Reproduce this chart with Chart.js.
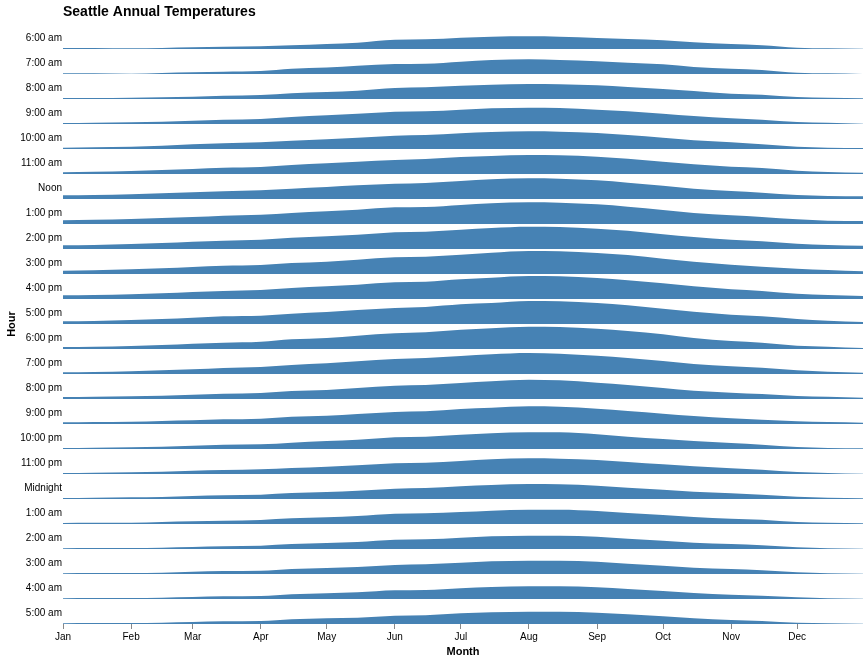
<!DOCTYPE html>
<html>
<head>
<meta charset="utf-8">
<script src="https://cdn.jsdelivr.net/npm/chart.js@4"></script>
<style>
  html, body { margin: 0; padding: 0; background: #fff; }
  #wrap { width: 868px; height: 661px; position: relative; }
</style>
</head>
<body>
<div id="wrap"><canvas id="c" width="868" height="661"></canvas></div>
<script>
// ---- data ----
const hours = ['6:00 am','7:00 am','8:00 am','9:00 am','10:00 am','11:00 am','Noon',
  '1:00 pm','2:00 pm','3:00 pm','4:00 pm','5:00 pm','6:00 pm','7:00 pm','8:00 pm',
  '9:00 pm','10:00 pm','11:00 pm','Midnight','1:00 am','2:00 am','3:00 am','4:00 am','5:00 am'];
const months = ['Jan','Feb','Mar','Apr','May','Jun','Jul','Aug','Sep','Oct','Nov','Dec'];
const monthStartDays = [0,31,59,90,120,151,181,212,243,273,304,334];
// day of year of each sample (1st and 15th of each month, Dec 31)
const sampleDays = [0,14,31,45,59,73,90,104,120,134,151,165,181,195,212,226,243,257,273,287,304,318,334,348,364];

// hourly normal temperatures (°F) at the sample days
const temp6am  = [36,36,35.4,36,37.4,38.6,39.4,41.4,44,46.6,52.6,53.4,56.6,58.6,59.4,58.6,56,54,51.4,47.4,44,41.4,36.6,35.4,34.6];
const temp7am  = [35.4,35.4,34.6,36,37.4,38.6,40,44.6,47,50.6,54,54.6,58.6,62,63.4,62,59.4,56.6,53.4,48,44.6,42,36.6,35.4,34];
const temp8am  = [36,36,36.6,37.4,38.6,40.6,42,45.4,48,50.6,56,57.4,60.6,62.6,64,63.4,61.4,58,54,50,44.6,42.6,38,36.6,35.4];
const temp9am  = [36,36.6,37.4,38.6,40.6,42.6,44,48,51.4,54.6,58.6,59.4,62.6,65.4,66.6,66,62.6,59.4,54.6,50,45.4,42.6,38,36.6,34.6];
const temp10am = [36.6,37.4,38.6,40.6,43.4,45.4,47.4,50.6,53.4,56.6,60.6,62,65.4,68,69.4,68.6,66,62,56.6,51.4,47.4,43.4,38.6,36.6,36];
const temp11am = [37.4,38.6,40,42,44,46.6,48,52,55.4,58.6,62,64,68,70,72,71.4,68.6,64.6,58.6,53.4,48.6,46,40.6,38,36.6];
const tempNoon = [41.4,42,43.4,45.4,47.4,49.4,51.4,54.6,58,61.4,64.6,66,70,73.4,75.4,74.6,71.4,66.6,60.6,54.6,50,46.6,42,40,39.4];
const temp1pm  = [41.4,42.6,44,46,48,50.6,52.6,56,59.4,62.6,67.4,68,72,75.4,77.4,76.6,73.4,68.6,62,56,51.4,48,43.4,40.6,40];
const temp2pm  = [41.4,42,44,46,48.6,50.6,52.6,56.6,59.4,62.6,67.4,68.6,72.6,76,78.6,78,74.6,70.6,63.4,58,52.6,49.4,44.6,42,40.6];
const temp3pm  = [40.6,41.4,43.4,45.4,48,50.6,52,56,58.6,62.6,67.4,68.6,72.6,76.6,80,79.4,76,72,64.6,58.6,52.6,48.6,44.6,42,39.4];
const temp4pm  = [41.4,42,43.4,45.4,48,50,52,56,59.4,62.6,67.4,68.6,73.4,76.6,80,79.4,76,71.4,65.4,59.4,53.4,50,44.6,42,40];
const temp5pm  = [39.4,40,42,44,46.6,49.4,50.6,54.6,58,62,66,68,73.4,76,80,79.4,76,71.4,64.6,58.6,52.6,49.4,44,40.6,38];
const temp6pm  = [38,38.6,40,42,44.6,46.6,48.6,53.4,56,60.6,65.4,67.4,72.6,75.4,78.6,78,74.6,70,63.4,56,50,46.6,40.6,38.6,36];
const temp7pm  = [37.4,38,39.4,41.4,43.4,46,48,52,55.4,59.4,64,66,70,73.4,76,74.6,70.6,66,60,54,49.4,46.6,41.4,38.6,36.6];
const temp8pm  = [38,38.6,39.4,40.6,42.6,44.6,46,50,52,56,60.6,62,66,69.4,72.6,71.4,66.6,62,56,50.6,46.6,44,40,38.6,36.6];
const temp9pm  = [37.4,38,38.6,40,41.4,43.4,44.6,48.6,50.6,54,58,59.4,64,66.6,69.4,68.6,64.6,60,54.6,50,45.4,42.6,39.4,38,36.6];
const temp10pm = [36,36.6,37.4,38.6,40.6,42.6,43.4,46.6,50,52.6,57.4,58.6,62.6,65.4,67.4,67.4,63.4,58.6,54,50,46,42.6,38,36,35.4];
const temp11pm = [36,36.6,37.4,38.6,40.6,42,43.4,46,48.6,51.4,55.4,56.6,60,63.4,65.4,64.6,62,58,53.4,49.4,45.4,42.6,38,36,34.6];
const tempMidnight = [36,36.6,37.4,38,40,41.4,42.6,46,48,50.6,54.6,56,59.4,62,64,63.4,60.6,56.6,52.6,48.6,45.4,42.6,38.6,36.6,35.4];
const temp1am  = [36,36.6,36.6,38,39.4,40.6,42,45.4,47.4,50,54.6,55.4,58,60.6,62.6,62.6,60,56,52,48,44.6,42.6,38,36.6,35.4];
const temp2am  = [35.4,36,36,36.6,38,39.4,40.6,44,46,48,52.6,53.4,56.6,59.4,60.6,60.6,58.6,54.6,50.6,46.6,44,41.4,37.4,35.4,34.6];
const temp3am  = [35.4,36,36,36.6,38.6,40,40.6,44,46,48,52,53.4,56.6,59.4,60.6,60.6,58.6,54.6,50.6,46.6,44,41.4,37.4,35.4,34.6];
const temp4am  = [35.4,36,36,36.6,38,39.4,40,43.4,45.4,47.4,51.4,52,55.4,58,59.4,59.4,57.4,54,50,46,42.6,40.6,37.4,35.4,34.6];
const temp5am  = [35.4,36,36,36.6,38,39.4,40,43.4,45.4,46.6,50.6,51.4,55.4,57.4,58.6,58.6,56.6,53.4,49.4,45.4,42,40,36.6,35.4,34.6];

const temps = [temp6am,temp7am,temp8am,temp9am,temp10am,temp11am,tempNoon,temp1pm,temp2pm,
  temp3pm,temp4pm,temp5pm,temp6pm,temp7pm,temp8pm,temp9pm,temp10pm,temp11pm,tempMidnight,
  temp1am,temp2am,temp3am,temp4am,temp5am];
const tempMin = 34, tempMax = 84;

// ---- chart ----
const FONT = "'Liberation Sans', Arial, Helvetica, sans-serif";
Chart.defaults.font.family = FONT;
Chart.defaults.color = '#000';

const datasets = temps.map((row, i) => ({
  label: hours[i],
  data: sampleDays.map((d, j) => ({x: d, y: row[j]})),
  xAxisID: 'x',
  yAxisID: 'r' + i,
  fill: 'start',
  backgroundColor: '#4682b4',
  borderColor: '#4682b4',
  borderWidth: 0,
  pointRadius: 0,
  cubicInterpolationMode: 'monotone'
}));

const scales = {
  x: {
    type: 'linear',
    position: 'bottom',
    min: 0, max: 364,
    afterBuildTicks: (s) => { s.ticks = monthStartDays.map(v => ({value: v})); },
    afterFit: (s) => { s.height = 37; },
    ticks: {
      autoSkip: false, maxRotation: 0, padding: 2,
      font: {size: 10}, color: '#000',
      callback: (v, i) => months[i]
    },
    grid: { display: true, drawOnChartArea: false, drawTicks: true, tickLength: 5, color: '#888', lineWidth: 1 },
    border: { display: false },
    title: { display: true, text: 'Month', font: {size: 11, weight: 'bold'}, color: '#000', padding: {top: 2, bottom: 2} }
  },
  yHour: {
    type: 'category',
    axis: 'y',
    position: 'left',
    weight: 100,
    labels: hours,
    offset: true,
    afterFit: (s) => { s.width = 63; },
    ticks: { autoSkip: false, padding: 1, labelOffset: 1.5, font: {size: 10}, color: '#000' },
    grid: { display: false, drawTicks: false },
    border: { display: false },
    title: { display: true, text: 'Hour', font: {size: 11, weight: 'bold'}, color: '#000', padding: {top: 5, bottom: 5} }
  }
};
hours.forEach((h, i) => {
  scales['r' + i] = {
    type: 'linear',
    axis: 'y',
    position: 'left',
    stack: 'rows',
    stackWeight: 1,
    weight: 24 - i,
    min: tempMin, max: tempMax,
    display: false
  };
});

new Chart(document.getElementById('c'), {
  type: 'line',
  data: { datasets },
  options: {
    responsive: false,
    animation: false,
    layout: { padding: {top: 0, left: 0, right: 5, bottom: 0} },
    plugins: {
      legend: { display: false },
      tooltip: { enabled: false },
      title: {
        display: true, text: 'Seattle Annual Temperatures',
        align: 'start', fullSize: false,
        font: {size: 14, weight: 'bold'}, color: '#000',
        padding: {top: 4, bottom: 3.2}
      }
    },
    scales
  }
});
</script>
</body>
</html>
